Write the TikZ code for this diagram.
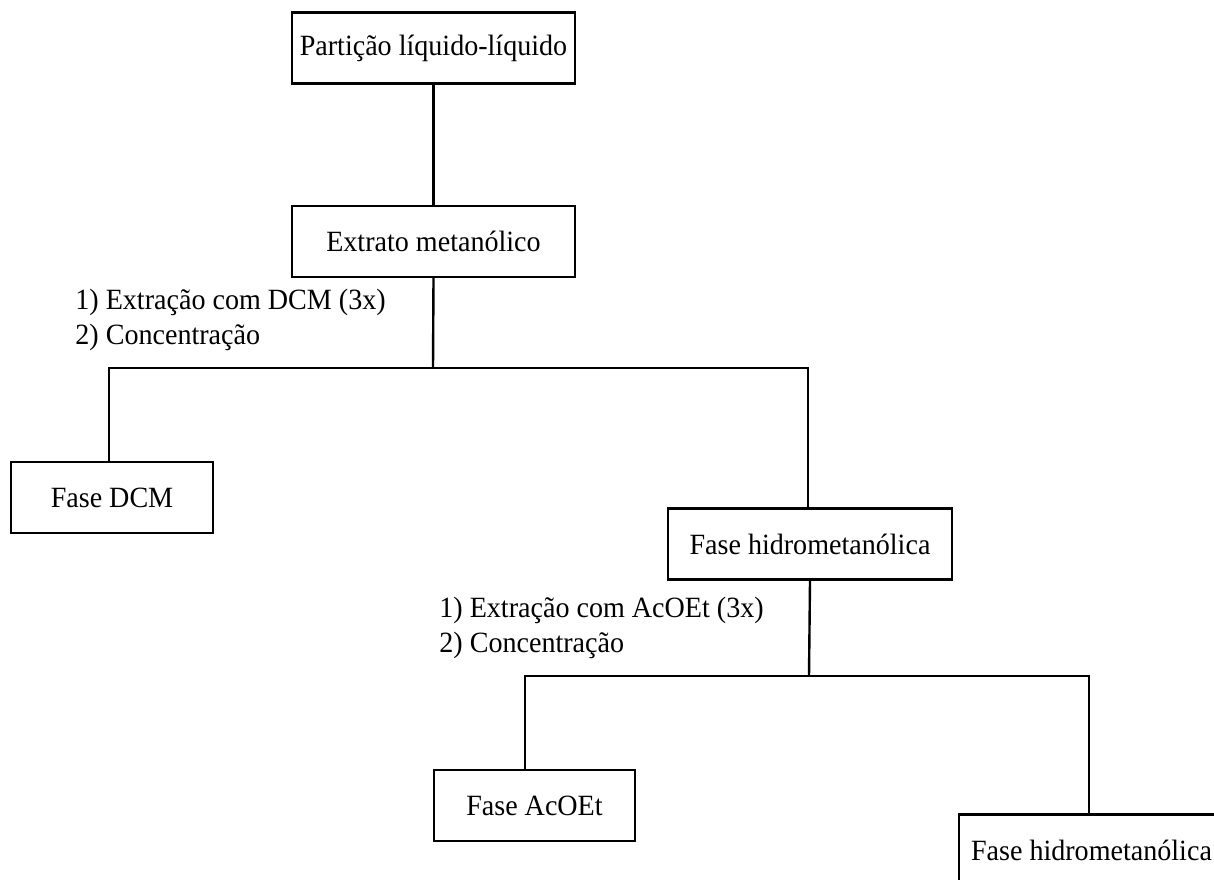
\documentclass[tikz,border=0pt]{standalone}
\usepackage{fontspec}
\setmainfont{Liberation Serif}[FakeStretch=0.955]
\usetikzlibrary{positioning}

\begin{document}
\begin{tikzpicture}[
    x=0.5pt, y=-0.5pt,
    stage/.style ={draw, line width=1.2pt, inner sep=0pt, minimum height=35.5pt,
                   font=\fontsize{14.7}{17}\selectfont},
    steps/.style ={align=left, anchor=west, inner sep=0pt,
                   font=\fontsize{14.7}{17.5}\selectfont},
    link/.style  ={line width=1.2pt},
]
\useasboundingbox (0,0) rectangle (1214,879);
\node[stage, minimum width=141.5pt] (part) at (433.5,48) {Partição líquido-líquido};
\node[stage, minimum width=141.5pt, below=60pt of part] (extr) {Extrato metanólico};
\node[stage, minimum width=101pt] (dcm) at (112,497.5) {Fase DCM};
\node[stage, minimum width=142pt] (hid1) at (810,544) {Fase hidrometanólica};
\node[stage, minimum width=100.5pt] (acet) at (534.5,805.5) {Fase AcOEt};
\node[stage, minimum width=132.5pt] (hid2) at (1091.5,850) {Fase hidrometanólica};
% branch points
\coordinate (br1) at (433,368);
\coordinate (br2) at (809,676);
\node[steps] (lab1) at (75,319.5) {1) Extração com DCM (3x)\\2) Concentração};
\node[steps] (lab2) at (439,627.5) {1) Extração com AcOEt (3x)\\2) Concentração};
\draw[link] (part) -- (extr);
\draw[link] (extr.south) -- (br1);
\draw[link] ([xshift=-1.5pt]dcm.north) |- (br1) -| ([xshift=-1pt]hid1.north);
\draw[link] (hid1.south) -- (br2);
\draw[link] ([xshift=-4.75pt]acet.north) |- (br2) -| ([xshift=-1.25pt]hid2.north);
\end{tikzpicture}
\end{document}
